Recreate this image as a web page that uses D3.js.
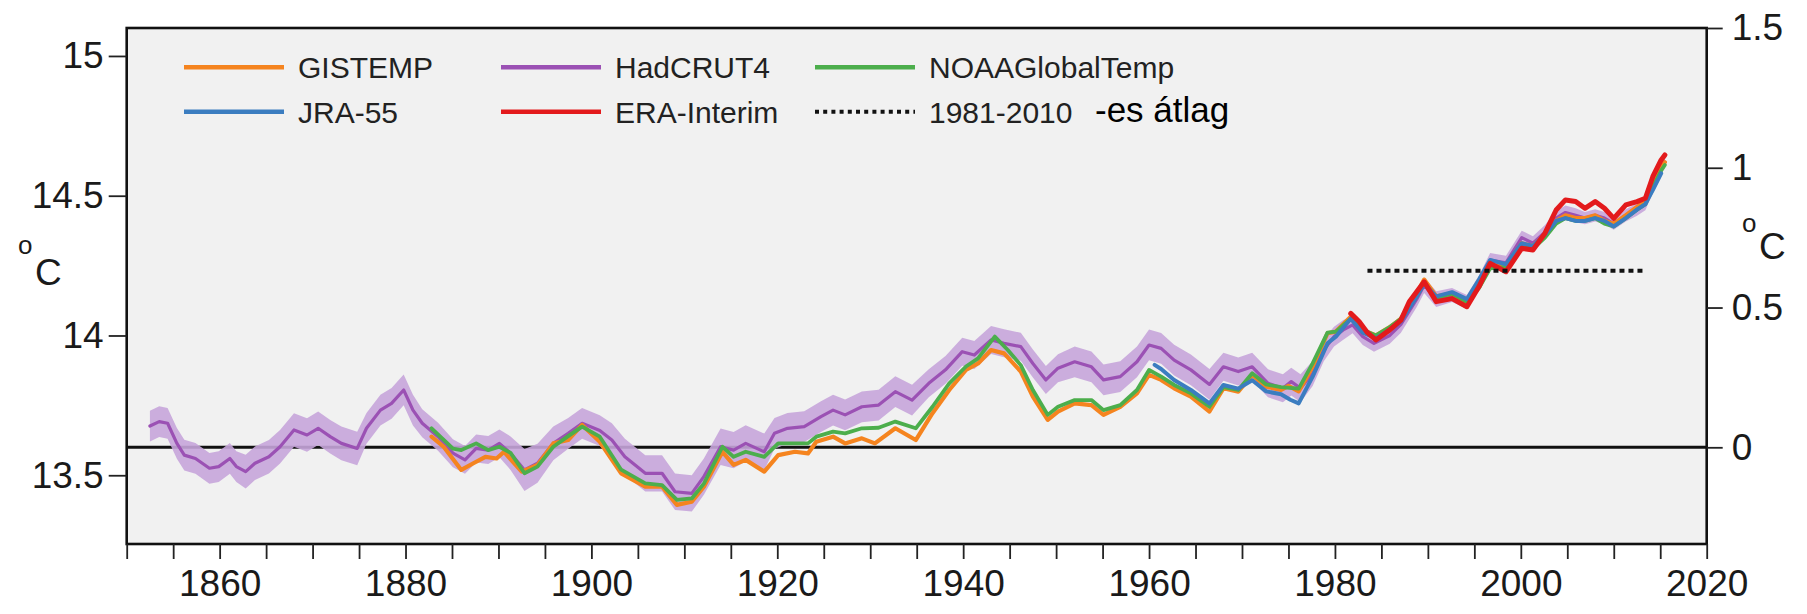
<!DOCTYPE html>
<html><head><meta charset="utf-8">
<script src="https://cdn.jsdelivr.net/npm/d3@7"></script>
<style>
html,body{margin:0;padding:0;background:#fff;}
svg{display:block;font-family:"Liberation Sans",Arial,Helvetica,sans-serif;}
</style></head>
<body><svg id="chart" width="1807" height="614"></svg>
<script>
// ---------------- data (anomaly vs. 13.6 °C, 5-year running means) ----------------
const hadYears = [1852.5,1853.5,1854.4,1855.4,1856.2,1857.4,1858.9,1859.9,1861.1,1861.8,
 1862.8,1863.8,1865.3,1866.5,1868.0,1869.4,1870.6,1871.9,1873.1,1874.8,
 1875.8,1877.3,1878.5,1879.8,1880.8,1881.8,1883.5,1885.1,1886.4,1887.6,
 1888.9,1890.1,1891.3,1892.8,1894.2,1895.9,1897.5,1899.0,1900.9,1902.2,
 1903.6,1905.8,1907.6,1909.0,1910.8,1912.1,1913.9,1915.3,1916.6,1918.6,
 1919.7,1921.1,1922.9,1924.7,1926.0,1927.3,1929.1,1930.9,1932.7,1934.5,
 1936.3,1938.1,1939.9,1941.2,1943.0,1944.4,1946.2,1947.5,1948.9,1950.2,
 1952.0,1953.8,1955.1,1956.9,1958.7,1960.0,1961.3,1962.7,1964.5,1966.5,
 1968.0,1969.6,1971.1,1972.8,1974.4,1975.3,1976.3,1977.6,1978.8,1979.9,
 1980.9,1981.9,1983.0,1984.2,1985.9,1987.1,1988.8,1989.6,1990.9,1992.6,
 1994.2,1995.5,1996.7,1998.4,2000.1,2001.3,2002.6,2003.8,2004.8,2005.9,
 2006.9,2008.0,2009.0,2010.0,2011.3,2012.5,2013.4,2014.2,2015.1,2015.5];
const hadVals = [0.076,0.092,0.086,0.014,-0.028,-0.040,-0.075,-0.069,-0.040,-0.069,
 -0.087,-0.057,-0.034,0.002,0.062,0.044,0.068,0.038,0.014,-0.004,
 0.068,0.133,0.157,0.205,0.133,0.086,0.038,-0.021,-0.045,-0.004,
 -0.010,0.014,-0.021,-0.081,-0.057,0.014,0.050,0.086,0.060,0.026,
 -0.034,-0.093,-0.093,-0.159,-0.165,-0.105,0.002,-0.010,0.014,-0.016,
 0.050,0.068,0.074,0.110,0.133,0.116,0.145,0.151,0.199,0.169,
 0.229,0.277,0.342,0.330,0.384,0.372,0.360,0.300,0.241,0.283,
 0.306,0.288,0.241,0.253,0.306,0.366,0.354,0.312,0.277,0.225,
 0.288,0.271,0.288,0.229,0.211,0.235,0.211,0.264,0.348,0.396,
 0.420,0.438,0.396,0.372,0.40,0.44,0.53,0.58,0.53,0.545,
 0.52,0.59,0.67,0.66,0.75,0.73,0.77,0.82,0.84,0.83,
 0.82,0.83,0.82,0.80,0.83,0.85,0.87,0.93,1.00,1.02];
const hadUnc = [0.055,0.055,0.055,0.055,0.055,0.055,0.055,0.055,0.055,0.055,
 0.06,0.06,0.06,0.06,0.06,0.06,0.06,0.06,0.06,0.06,
 0.055,0.055,0.055,0.055,0.055,0.05,0.05,0.05,0.05,0.05,
 0.05,0.05,0.06,0.075,0.07,0.06,0.055,0.055,0.055,0.06,
 0.065,0.065,0.065,0.065,0.065,0.065,0.065,0.065,0.065,0.065,
 0.055,0.055,0.055,0.055,0.055,0.055,0.055,0.055,0.055,0.055,
 0.05,0.05,0.05,0.05,0.05,0.05,0.05,0.05,0.05,0.05,
 0.055,0.055,0.055,0.055,0.055,0.055,0.055,0.055,0.055,0.055,
 0.05,0.05,0.05,0.05,0.05,0.05,0.05,0.045,0.04,0.035,
 0.035,0.03,0.03,0.03,0.03,0.03,0.028,0.028,0.028,0.025,
 0.025,0.025,0.025,0.025,0.025,0.025,0.025,0.025,0.025,0.025,
 0.022,0.022,0.022,0.022,0.022,0.022,0.022,0.022,0.022,0.022];

const gisYears = [1882.8,1884.1,1886.0,1887.3,1888.6,1889.8,1890.6,1892.5,1894.2,1895.9,
 1897.5,1899.0,1900.9,1903.2,1905.8,1907.6,1909.2,1910.8,1912.1,1914.1,
 1915.3,1916.6,1918.6,1920.1,1921.9,1923.3,1924.2,1926.0,1927.3,1929.1,
 1930.5,1932.7,1934.9,1936.7,1938.5,1940.3,1941.6,1943.0,1944.4,1946.2,
 1947.5,1949.1,1950.2,1952.0,1953.8,1955.1,1956.9,1958.7,1960.0,1961.3,
 1962.7,1964.5,1966.5,1968.0,1969.6,1971.1,1972.6,1974.2,1975.0,1976.1,
 1977.6,1979.2,1980.1,1981.7,1983.0,1984.4,1985.9,1987.1,1988.8,1989.6,
 1990.9,1992.6,1994.2,1995.5,1996.7,1998.4,2000.1,2001.3,2002.6,2003.8,
 2004.8,2005.9,2006.9,2008.0,2009.0,2010.0,2011.3,2012.5,2013.4,2014.2,
 2015.1,2015.5];
const gisVals = [0.038,0.002,-0.081,-0.057,-0.034,-0.040,-0.016,-0.087,-0.063,0.014,
 0.026,0.080,0.020,-0.093,-0.141,-0.141,-0.206,-0.195,-0.141,-0.016,
 -0.063,-0.045,-0.087,-0.028,-0.016,-0.022,0.020,0.038,0.014,0.032,
 0.014,0.068,0.026,0.122,0.205,0.277,0.300,0.348,0.336,0.271,
 0.181,0.098,0.128,0.157,0.151,0.116,0.145,0.193,0.259,0.241,
 0.211,0.181,0.128,0.211,0.199,0.259,0.217,0.205,0.22,0.20,
 0.288,0.408,0.414,0.467,0.42,0.40,0.43,0.46,0.55,0.60,
 0.54,0.55,0.52,0.58,0.65,0.65,0.73,0.72,0.76,0.81,
 0.83,0.82,0.82,0.83,0.81,0.80,0.83,0.86,0.88,0.94,
 1.00,1.02];

const noaaYears = [1882.8,1884.0,1885.1,1886.0,1887.6,1888.9,1890.1,1891.3,1892.8,1894.2,
 1895.9,1897.5,1899.0,1900.9,1903.2,1905.8,1907.6,1909.2,1910.8,1912.1,
 1914.1,1915.3,1916.6,1918.6,1920.1,1923.3,1924.2,1926.0,1927.3,1929.1,
 1930.9,1932.7,1934.9,1936.7,1938.5,1940.3,1941.6,1943.4,1944.8,1946.2,
 1947.5,1949.1,1950.2,1952.0,1953.8,1955.1,1956.9,1958.7,1960.0,1961.3,
 1962.7,1964.5,1966.5,1968.0,1969.6,1971.1,1972.6,1974.2,1976.1,1977.6,
 1979.2,1980.1,1981.7,1983.0,1984.4,1985.9,1987.1,1988.8,1989.6,1990.9,
 1992.6,1994.2,1995.5,1996.7,1998.4,2000.1,2001.3,2002.6,2003.8,2004.8,
 2005.9,2006.9,2008.0,2009.0,2010.0,2011.3,2012.5,2013.4,2014.2,2015.1,
 2015.5];
const noaaVals = [0.068,0.03,-0.005,-0.010,0.014,-0.010,0.002,-0.02,-0.093,-0.069,
 0.002,0.04,0.074,0.038,-0.08,-0.129,-0.135,-0.188,-0.183,-0.13,
 0.002,-0.034,-0.016,-0.034,0.014,0.014,0.038,0.056,0.05,0.068,
 0.07,0.092,0.068,0.145,0.229,0.289,0.318,0.396,0.348,0.294,
 0.205,0.116,0.145,0.169,0.169,0.133,0.151,0.205,0.277,0.253,
 0.223,0.193,0.145,0.215,0.205,0.265,0.225,0.215,0.21,0.30,
 0.41,0.414,0.46,0.42,0.40,0.43,0.46,0.54,0.59,0.535,
 0.55,0.52,0.57,0.64,0.645,0.72,0.71,0.75,0.80,0.82,
 0.81,0.81,0.82,0.80,0.79,0.82,0.85,0.87,0.93,0.99,
 1.01];

const jraYears = [1960.6,1961.3,1962.7,1964.5,1966.5,1968.0,1969.6,1971.1,1972.6,1974.2,
 1975.2,1976.1,1977.6,1979.2,1980.1,1981.7,1983.0,1984.4,1985.9,1987.1,
 1988.8,1989.6,1990.9,1992.6,1994.2,1995.5,1996.7,1998.4,2000.1,2001.3,
 2002.6,2003.8,2004.8,2005.9,2006.9,2008.0,2009.0,2010.0,2011.3,2012.5,
 2013.4,2014.2,2015.1];
const jraVals = [0.295,0.28,0.241,0.205,0.157,0.223,0.21,0.24,0.20,0.19,
 0.17,0.157,0.253,0.372,0.396,0.46,0.41,0.39,0.42,0.45,
 0.54,0.585,0.54,0.555,0.53,0.60,0.67,0.655,0.73,0.72,
 0.76,0.81,0.82,0.81,0.81,0.82,0.81,0.79,0.82,0.85,
 0.87,0.92,0.98];

const eraYears = [1981.7,1982.6,1983.5,1984.4,1985.9,1987.1,1988.0,1989.6,1990.9,1992.6,
 1994.2,1995.5,1996.7,1998.4,2000.1,2001.3,2002.6,2003.8,2004.8,2005.9,
 2006.9,2008.0,2009.0,2010.0,2011.3,2012.5,2013.4,2014.2,2015.1,2015.5];
const eraVals = [0.479,0.45,0.41,0.384,0.42,0.455,0.521,0.592,0.521,0.532,
 0.503,0.575,0.658,0.628,0.712,0.706,0.766,0.849,0.885,0.879,
 0.855,0.879,0.855,0.819,0.867,0.879,0.891,0.968,1.028,1.046];

const avgYears = [1983.5, 2013.5];
const avgVal = 0.632;

const baseTemp = 13.6;
const leftTicks = [13.5, 14, 14.5, 15];
const rightTicks = [0, 0.5, 1, 1.5];
const xMinorTicks = d3.range(1850, 2021, 5);
const xLabelTicks = [1860, 1880, 1900, 1920, 1940, 1960, 1980, 2000, 2020];

const legendNames = ["GISTEMP", "JRA-55", "HadCRUT4", "ERA-Interim", "NOAAGlobalTemp", "1981-2010"];
const legendNote = "-es átlag";
const unitLabel = "C";

// ---------------- layout ----------------
const svg = d3.select("#chart");
const L = 126.7, R = 1706.7, T = 28, B = 544;
const x = d3.scaleLinear().domain([1850, 2020]).range([L, R]);
const y = d3.scaleLinear().domain([0, 1.5]).range([447.3, T]);
const yBottom = y.invert(B);
const yAbs = d3.scaleLinear().domain([baseTemp + yBottom, baseTemp + 1.5]).range([B, T]);

const col = {gis:"#f5841f", had:"#9b51b4", band:"#c6a5da", noaa:"#4cae4c", jra:"#3b7dc0", era:"#e31a1c"};

svg.append("rect").attr("width",1807).attr("height",614).attr("fill","#fff");
svg.append("rect").attr("x",L).attr("y",T).attr("width",R-L).attr("height",B-T).attr("fill","#f1f1f1");

const clip = svg.append("clipPath").attr("id","clip").append("rect")
  .attr("x",L).attr("y",T).attr("width",R-L).attr("height",B-T);
const plot = svg.append("g").attr("clip-path","url(#clip)");

// zero line
plot.append("line").attr("x1",L).attr("x2",R).attr("y1",y(0)).attr("y2",y(0))
  .attr("stroke","#111").attr("stroke-width",3);

// HadCRUT4 band
const hadData = hadYears.map((yr,i)=>({yr, v:hadVals[i], u:hadUnc[i]}));
plot.append("path").datum(hadData)
  .attr("d", d3.area().x(d=>x(d.yr)).y0(d=>y(d.v-d.u)).y1(d=>y(d.v+d.u)))
  .attr("fill", col.band).attr("opacity",0.9);

const line = d3.line().x(d=>x(d[0])).y(d=>y(d[1]));
function series(years, vals, color, w){
  plot.append("path").datum(years.map((yr,i)=>[yr, vals[i]]))
    .attr("d", line).attr("fill","none").attr("stroke",color)
    .attr("stroke-width",w).attr("stroke-linejoin","round").attr("stroke-linecap","round");
}
series(hadYears, hadVals, col.had, 3.2);
series(gisYears, gisVals, col.gis, 4.2);
series(noaaYears, noaaVals, col.noaa, 3.8);
series(jraYears, jraVals, col.jra, 4);
series(eraYears, eraVals, col.era, 5);

// 1981-2010 mean
plot.append("line").attr("x1",x(avgYears[0])).attr("x2",x(avgYears[1]))
  .attr("y1",y(avgVal)).attr("y2",y(avgVal))
  .attr("stroke","#111").attr("stroke-width",4).attr("stroke-dasharray","5,4");

// frame
svg.append("rect").attr("x",L).attr("y",T).attr("width",R-L).attr("height",B-T)
  .attr("fill","none").attr("stroke","#111").attr("stroke-width",2.6);

// axes
const fs = 37;
function styleAxis(g){
  g.select(".domain").remove();
  g.selectAll(".tick line").attr("stroke","#222").attr("stroke-width",1.8);
  g.selectAll(".tick text").attr("fill","#1a1a1a").attr("font-size",fs)
    .attr("font-family","'Liberation Sans',Arial,sans-serif");
}
svg.append("g").attr("transform",`translate(${L},0)`)
  .call(d3.axisLeft(yAbs).tickValues(leftTicks).tickSize(18).tickPadding(5).tickFormat(d=>String(d)))
  .call(styleAxis);
svg.append("g").attr("transform",`translate(${R},0)`)
  .call(d3.axisRight(y).tickValues(rightTicks).tickSize(16).tickPadding(9).tickFormat(d=>String(d)))
  .call(styleAxis);
svg.append("g").attr("transform",`translate(0,${B})`)
  .call(d3.axisBottom(x).tickValues(xMinorTicks).tickSize(15).tickPadding(11)
    .tickFormat(d=>xLabelTicks.includes(d)?String(d):""))
  .call(styleAxis);

// unit labels
function unit(xo, yo, xc, yc){
  const g = svg.append("g").attr("fill","#1a1a1a");
  g.append("text").attr("x",xo).attr("y",yo).attr("font-size",26).text("o");
  g.append("text").attr("x",xc).attr("y",yc).attr("font-size",fs).text(unitLabel);
}
unit(18, 254, 35, 285);
unit(1742, 232, 1759, 259);

// legend
const legCols = [184, 501, 815];
const legRows = [67.3, 111.7];
const legColors = [col.gis, col.jra, col.had, col.era, col.noaa, null];
legendNames.forEach((name,i)=>{
  const cx = legCols[Math.floor(i/2)], cy = legRows[i%2];
  const ln = svg.append("line").attr("x1",cx).attr("x2",cx+100).attr("y1",cy).attr("y2",cy);
  if(legColors[i]) ln.attr("stroke",legColors[i]).attr("stroke-width",4.5);
  else ln.attr("stroke","#111").attr("stroke-width",4).attr("stroke-dasharray","4,4.2");
  svg.append("text").attr("x",cx+114).attr("y",cy+11).attr("font-size",30)
    .attr("fill","#222").text(name);
});
svg.append("text").attr("x",1095).attr("y",122).attr("font-size",35)
  .attr("font-family","Arial,'Liberation Sans',sans-serif").attr("fill","#000").text(legendNote);
</script></body></html>
